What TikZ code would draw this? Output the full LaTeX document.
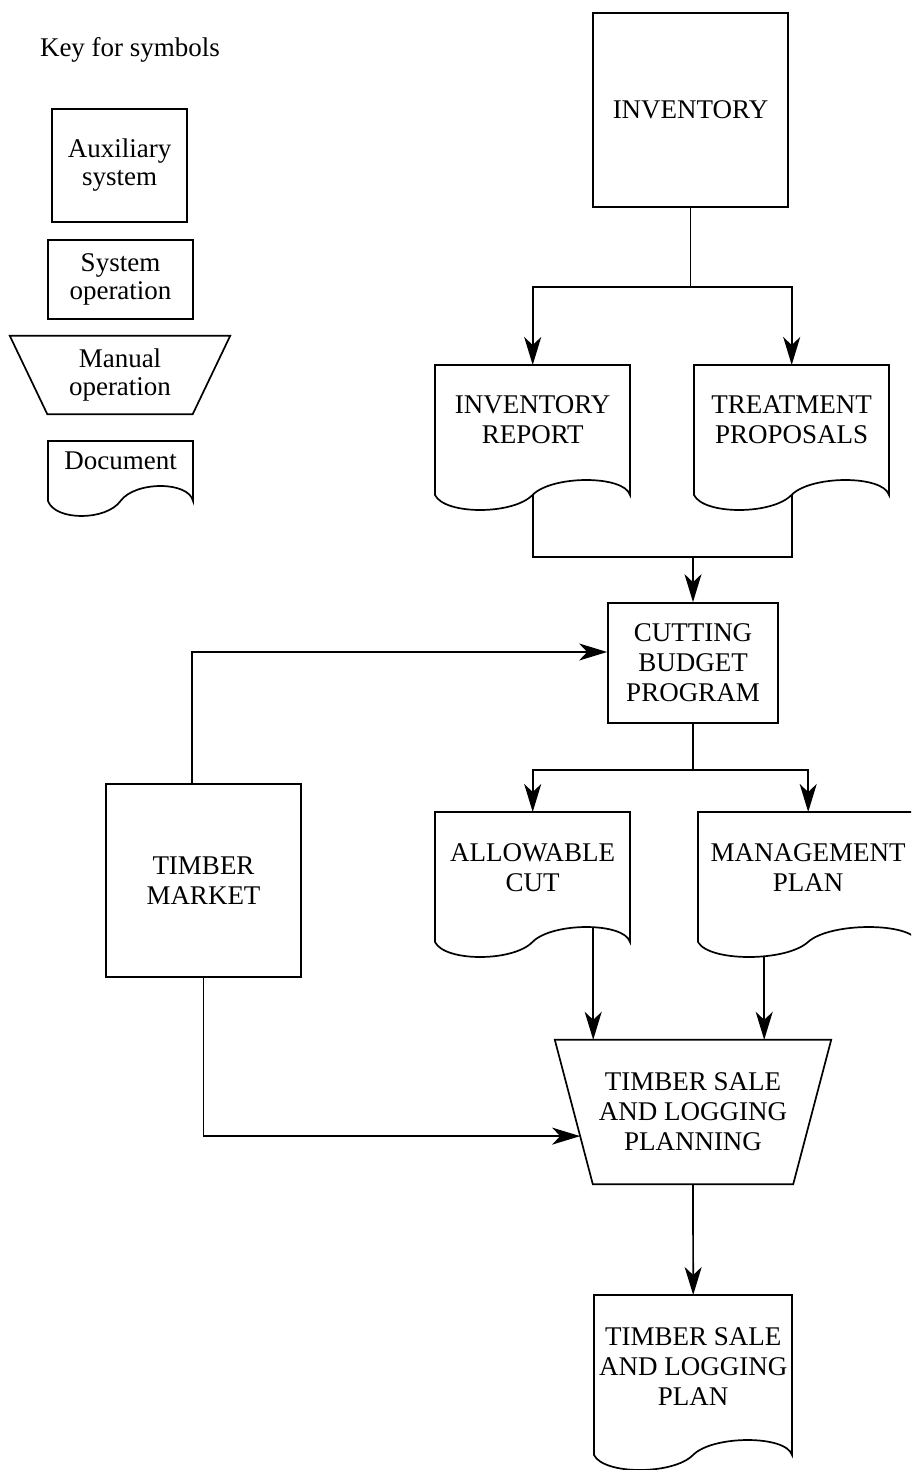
\documentclass[tikz,border=0pt]{standalone}
\usepackage{fontspec}
\setmainfont{Liberation Serif}
\usetikzlibrary{arrows.meta,calc}
\pgfdeclarelayer{bg}
\pgfsetlayers{bg,main}

\tikzset{
  ln/.style={line width=1.7pt, line join=miter},
  mainfont/.style={font=\fontsize{27}{30}\selectfont},
  keyfont/.style={font=\fontsize{27}{28}\selectfont},
  boxnode/.style={ln, draw, rectangle, inner sep=0pt, align=center},
  area/.style={rectangle, inner sep=0pt, align=center},
  doctext/.style={inner sep=0pt, anchor=north, align=center},
  link/.style={ln},
  flow/.style={ln, -{Stealth[length=28pt,width=17pt,inset=8pt]}},
}

% document symbol: straight top and sides, wavy bottom edge
\newcommand\docoutline[3]{% node, width, height
  \begin{scope}[shift={(#1.north west)}]
    \draw[ln, fill=white] (0,0) -- (0,#3)
      .. controls ({0.05*#2},{#3+20}) and ({0.4*#2},{#3+20}) .. ({0.5*#2},#3)
      .. controls ({0.6*#2},{#3-20}) and ({0.97*#2},{#3-20}) .. (#2,#3)
      -- (#2,0) -- cycle;
  \end{scope}}

% manual operation symbol: trapezoid narrowing downwards
\newcommand\trapoutline[2]{% node, inset
  \draw[ln] (#1.north west) -- (#1.north east)
    -- ([xshift=-#2]#1.south east) -- ([xshift=#2]#1.south west) -- cycle;}

\begin{document}
\begin{tikzpicture}[x=1pt,y=-1pt]
\clip (0,0) rectangle (911,1470);

% ---------- key ----------
\node[keyfont] (keytitle) at (130,50) {Key for symbols};
\node[boxnode, keyfont, minimum width=135pt, minimum height=113pt] (kaux) at (119.5,165.5) {Auxiliary\\system};
\node[boxnode, keyfont, minimum width=145pt, minimum height=79pt] (ksys) at (120.5,279.5) {System\\operation};
\node[area, keyfont, minimum width=220pt, minimum height=78pt] (kman) at (120,375) {Manual\\operation};
\trapoutline{kman}{37.5pt}
\node[area, minimum width=145pt, minimum height=60pt, anchor=north west] (kdoc) at (48,441) {};
\docoutline{kdoc}{145}{60}
\node[doctext, keyfont] (kdoc-t) at ([yshift=-11pt]kdoc.north) {Document};

% ---------- flow chart ----------
\node[boxnode, mainfont, minimum width=195pt, minimum height=194pt] (inv) at (690.5,110) {INVENTORY};

\node[area, minimum width=195pt, minimum height=130pt, anchor=north west] (ir) at (435,365) {};
\docoutline{ir}{195}{130}
\node[doctext, mainfont] (ir-t) at ([yshift=-30pt]ir.north) {INVENTORY\\REPORT};

\node[area, minimum width=195pt, minimum height=130pt, anchor=north west] (tp) at (694,365) {};
\docoutline{tp}{195}{130}
\node[doctext, mainfont] (tp-t) at ([yshift=-30pt]tp.north) {TREATMENT\\PROPOSALS};

\node[boxnode, mainfont, minimum width=170pt, minimum height=120pt] (cbp) at (693,663) {CUTTING\\BUDGET\\PROGRAM};

\node[boxnode, mainfont, minimum width=195pt, minimum height=193pt] (tmk) at (203.5,880.5) {TIMBER\\MARKET};

\node[area, minimum width=195pt, minimum height=130pt, anchor=north west] (ac) at (435,812) {};
\docoutline{ac}{195}{130}
\node[doctext, mainfont] (ac-t) at ([yshift=-31pt]ac.north) {ALLOWABLE\\CUT};

\node[area, minimum width=220pt, minimum height=130pt, anchor=north west] (mp) at (698,812) {};
\docoutline{mp}{220}{130}
\node[doctext, mainfont] (mp-t) at ([yshift=-31pt]mp.north) {MANAGEMENT\\PLAN};

\node[area, mainfont, minimum width=276pt, minimum height=144pt] (tslp) at (693,1112) {TIMBER SALE\\AND LOGGING\\PLANNING};
\trapoutline{tslp}{38pt}

\node[area, minimum width=198pt, minimum height=160pt, anchor=north west] (plan) at (594,1295) {};
\docoutline{plan}{198}{160}
\node[doctext, mainfont] (plan-t) at ([yshift=-32pt]plan.north) {TIMBER SALE\\AND LOGGING\\PLAN};

% connector end points on the wavy edges and the slanted side
\coordinate (ac-out) at ([xshift=60.5pt,yshift=25pt]ac.south);
\coordinate (mp-out) at ([xshift=-44pt,yshift=5pt]mp.south);
\coordinate (tslp-sw) at ([xshift=38pt]tslp.south west);
\coordinate (tslp-in) at ($(tslp.north west)!0.667!(tslp-sw)$);

% ---------- connectors (behind the white-filled documents) ----------
\begin{pgfonlayer}{bg}
\fill[white] (0,0) rectangle (911,1470);
\draw[flow] (inv.south) -- ++(0,79) -| (ir.north);
\draw[flow] (inv.south) -- ++(0,79) -| (tp.north);
\draw[link] ([yshift=10pt]ir.south) |- ($(cbp.north)+(0,-45)$) -| ([yshift=10pt]tp.south);
\draw[flow] ($(cbp.north)+(0,-45)$) -- (cbp.north);
\draw[flow] ([xshift=-11.5pt]tmk.north) |- ([yshift=11pt]cbp.west);
\draw[flow] (cbp.south) -- ++(0,46) -| (ac.north);
\draw[flow] (cbp.south) -- ++(0,46) -| (mp.north);
\draw[flow] (ac-out) -- (ac-out |- tslp.north);
\draw[flow] (mp-out) -- (mp-out |- tslp.north);
\draw[flow] (tmk.south) |- (tslp-in);
\draw[flow] (tslp.south) -- (plan.north);
\end{pgfonlayer}
\end{tikzpicture}
\end{document}
